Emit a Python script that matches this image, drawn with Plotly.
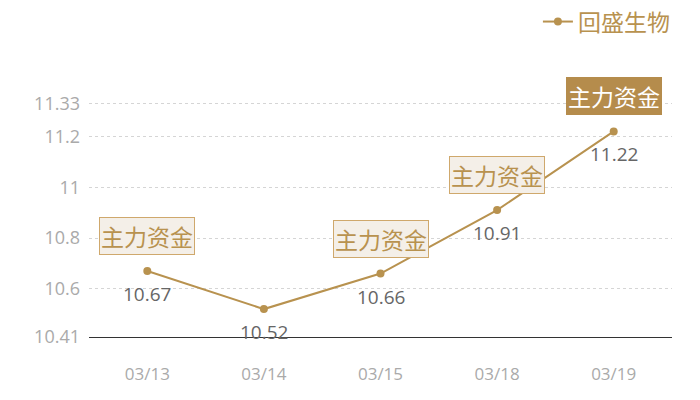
import plotly.graph_objects as go

dates = ["03/13", "03/14", "03/15", "03/18", "03/19"]
prices = [10.67, 10.52, 10.66, 10.91, 11.22]
value_labels = ["10.67", "10.52", "10.66", "10.91", "11.22"]
flag_dates = ["03/13", "03/15", "03/18", "03/19"]
flag_text = "主力资金"
y_ticks = [10.41, 10.6, 10.8, 11, 11.2, 11.33]
y_tick_text = ["10.41", "10.6", "10.8", "11", "11.2", "11.33"]
series_name = "回盛生物"

gold = "#b8924f"
font_fam = "Noto Sans CJK SC, Noto Sans, sans-serif"
num_fam = "Open Sans, Noto Sans, sans-serif"

fig = go.Figure()
fig.add_trace(go.Scatter(
    x=dates, y=prices, mode="lines+markers", name=series_name,
    line=dict(color=gold, width=2), marker=dict(color=gold, size=8),
    cliponaxis=False,
))

for d, v, t in zip(dates, prices, value_labels):
    fig.add_annotation(
        x=d, y=v, xref="x", yref="y", text=t, showarrow=False, yshift=-23,
        font=dict(color="#666666", size=19, family=num_fam),
    )

for i, d in enumerate(flag_dates):
    idx = dates.index(d)
    last = (i == len(flag_dates) - 1)
    fig.add_annotation(
        x=d, y=prices[idx], xref="x", yref="y",
        text=flag_text, showarrow=False, yshift=35,
        font=dict(color="#ffffff" if last else gold, size=23, family=font_fam),
        bgcolor="#b58c4c" if last else "#f4efe8",
        bordercolor="#b58c4c" if last else "#cfa86c",
        borderwidth=1, borderpad=1,
    )

fig.update_layout(
    width=700, height=400,
    margin=dict(l=89, r=28, t=0, b=63),
    paper_bgcolor="white", plot_bgcolor="white",
    font=dict(family=font_fam),
    showlegend=True,
    legend=dict(x=1.005, y=0.95, xanchor="right", yanchor="middle",
                font=dict(color=gold, size=23, family=font_fam),
                bgcolor="rgba(0,0,0,0)", itemwidth=30),
    xaxis=dict(type="category", range=[-0.5, 4.5], showgrid=False,
               showline=True, linecolor="#333333", linewidth=1,
               ticks="", ticklabelstandoff=22,
               tickfont=dict(color="#aaaaaa", size=17, family=num_fam),
               zeroline=False, automargin=False),
    yaxis=dict(range=[10.41, 11.718], tickvals=y_ticks, ticktext=y_tick_text,
               showgrid=True, gridcolor="#d5d5d5", griddash="dot", gridwidth=1,
               zeroline=False, showline=False, ticks="", automargin=False,
               ticklabelstandoff=8,
               tickfont=dict(color="#aaaaaa", size=18, family=num_fam)),
)

fig.write_html("out.html", config={"displayModeBar": False},
               post_script="document.body.style.margin='0';")
